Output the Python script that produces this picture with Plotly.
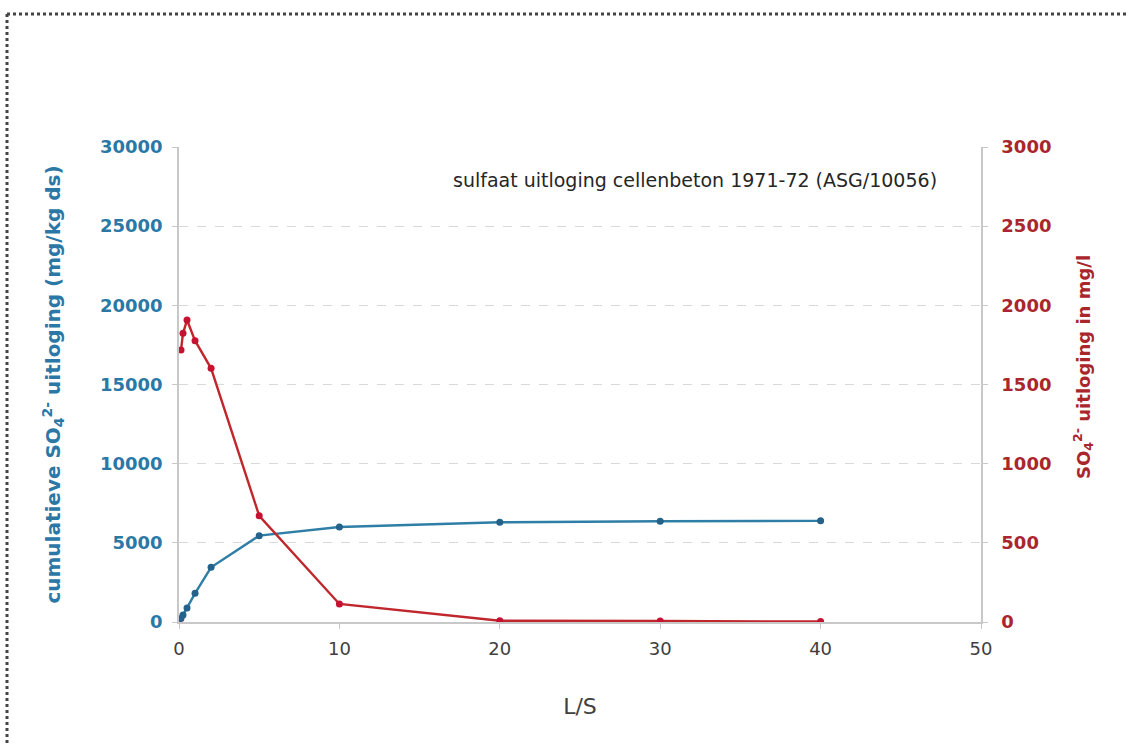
import plotly.graph_objects as go

# Data
ls_red = [0.125, 0.25, 0.5, 1, 2, 5, 10, 20, 30, 40]
conc = [1718, 1823, 1907, 1777, 1602, 671, 114, 8, 6, 3]

ls_blue = [0.125, 0.25, 0.5, 1, 2, 5, 10, 20, 30, 40]
cumul = [215, 440, 880, 1811, 3453, 5453, 6000, 6300, 6360, 6390]

x_ticks = [0, 10, 20, 30, 40, 50]
y1_ticks = [0, 5000, 10000, 15000, 20000, 25000, 30000]
y2_ticks = [0, 500, 1000, 1500, 2000, 2500, 3000]

BLUE_LINE = "#2f7ea6"
BLUE_MARK = "#24628a"
BLUE_TXT = "#2b78a6"
RED_LINE = "#c0272d"
RED_MARK = "#c41230"
RED_TXT = "#a8262c"
FONT = "DejaVu Sans, Liberation Sans, Arial, sans-serif"

fig = go.Figure()
fig.add_trace(go.Scatter(x=ls_blue, y=cumul, mode="lines+markers",
                         line=dict(color=BLUE_LINE, width=2.4),
                         marker=dict(color=BLUE_MARK, size=7),
                         yaxis="y", showlegend=False))
fig.add_trace(go.Scatter(x=ls_red, y=conc, mode="lines+markers",
                         line=dict(color=RED_LINE, width=2.4),
                         marker=dict(color=RED_MARK, size=7),
                         yaxis="y2", showlegend=False))

L, R, T, B = 179, 148, 147, 122
W, H = 1129, 744
pw, ph = W - L - R, H - T - B

def px(xp):
    return (xp - L) / pw

def py(yp):
    return 1 - (yp - T) / ph

fig.update_layout(
    width=W, height=H,
    margin=dict(l=L, r=R, t=T, b=B),
    paper_bgcolor="white", plot_bgcolor="white",
    font=dict(family=FONT),
    xaxis=dict(range=[0, 50], tickvals=x_ticks, ticktext=[str(v) for v in x_ticks],
               showgrid=False, zeroline=False, showline=True, linecolor="#c8c8c8", linewidth=1.5,
               ticks="outside", ticklen=5, tickcolor="#c8c8c8", ticklabelstandoff=5,
               tickfont=dict(size=18, color="#404040"),
               title=dict(text="L/S", font=dict(size=22, color="#404040"), standoff=40)),
    yaxis=dict(range=[0, 30000], tickvals=y1_ticks, ticktext=[str(v) for v in y1_ticks],
               showgrid=True, gridcolor="#d9d9d9", griddash="dash", gridwidth=1,
               zeroline=False, showline=True, linecolor="#c8c8c8", linewidth=1.5,
               ticks="outside", ticklen=5, tickcolor="#c8c8c8", ticklabelstandoff=6,
               tickfont=dict(size=18, color=BLUE_TXT, weight="bold"),
               title=dict(text="cumulatieve SO<sub>4</sub><sup>2-</sup> uitloging (mg/kg ds)",
                          font=dict(size=20, color=BLUE_TXT, weight="bold"), standoff=34)),
    yaxis2=dict(range=[0, 3000], tickvals=y2_ticks, ticktext=[str(v) for v in y2_ticks],
                overlaying="y", side="right", showgrid=False, zeroline=False,
                showline=True, linecolor="#c8c8c8", linewidth=1.5,
                ticks="outside", ticklen=5, tickcolor="#c8c8c8", ticklabelstandoff=10,
                tickfont=dict(size=18, color=RED_TXT, weight="bold")),
    annotations=[
        dict(text="sulfaat uitloging cellenbeton 1971-72 (ASG/10056)",
             xref="paper", yref="paper", x=px(695), y=py(180),
             xanchor="center", yanchor="middle", showarrow=False,
             font=dict(size=19, color="#262626")),
        dict(text="SO<sub>4</sub><sup>2-</sup> uitloging in mg/l",
             xref="paper", yref="paper", x=px(1083), y=py(367), textangle=-90,
             xanchor="center", yanchor="middle", showarrow=False,
             font=dict(size=18, color=RED_TXT, weight="bold")),
    ],
    shapes=[
        dict(type="line", xref="paper", yref="paper", x0=px(7), x1=px(7), y0=py(14), y1=py(744),
             line=dict(color="#444444", width=3, dash="dot")),
        dict(type="line", xref="paper", yref="paper", x0=px(7), x1=px(1129), y0=py(14), y1=py(14),
             line=dict(color="#444444", width=3, dash="dot")),
    ],
)

fig.write_html("out.html")
